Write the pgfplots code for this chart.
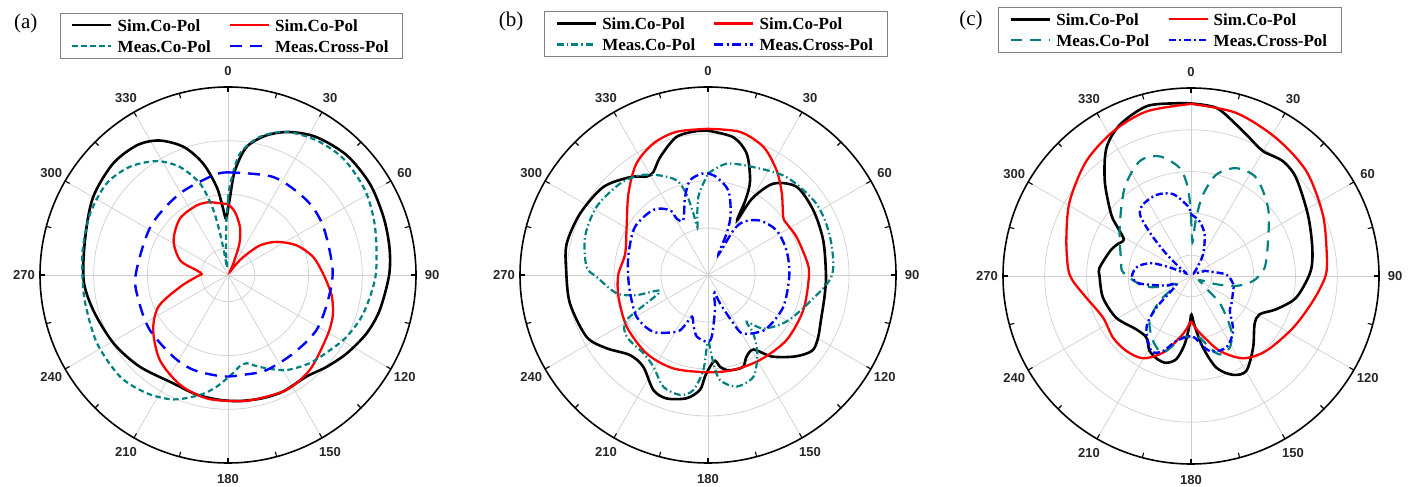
\documentclass[border=0pt]{standalone}
\usepackage{fontspec}
\setmainfont{Liberation Serif}
\newfontfamily\ticksans{Liberation Sans}
\usepackage{pgfplots}
\usepackage{pgfplotstable}
\pgfplotsset{compat=1.18}

\definecolor{simred}{RGB}{255,0,0}
\definecolor{measteal}{RGB}{0,128,128}
\definecolor{measblue}{RGB}{0,0,255}
\definecolor{gridgray}{RGB}{208,208,208}
\definecolor{legframe}{RGB}{128,128,128}

% ---------- (a): angle a in degrees (clockwise from top), level d in dB, range -35..0
\pgfplotstableread{
a d
0 -22.8
1.5 -20.5
3.8 -15.5
8.3 -10.9
15.5 -8.0
23.4 -6.0
32.7 -4.5
44.8 -3.6
57.3 -3.6
69.5 -4.1
80.2 -4.5
90 -5.0
103 -6.0
112.8 -7.0
123.4 -8.5
132.9 -9.9
142.3 -11.1
155 -11.0
165 -11.2
175 -11.45
184 -11.7
195 -12.0
207 -12.4
224 -11.3
239 -10.2
255 -9.1
268 -8.1
285 -7.5
300 -6.0
314 -5.2
325 -5.5
333 -6.9
341 -9.8
347.5 -13.8
352.7 -18.5
355.5 -22.3
357.8 -24.5
360 -22.8
}\blackA
\pgfplotstableread{
a d
0 -21.8
6.3 -23.2
14 -25.8
20 -28.8
25 -32.7
31 -34.3
36 -33.0
40.4 -30.6
47.2 -26.9
55.9 -24.0
66.6 -21.1
78 -18.8
89.2 -17.3
98.4 -15.8
103.5 -15.0
112 -14.0
122 -13.3
139 -11.7
153 -11.0
168.5 -11.3
177.6 -11.5
190 -11.7
203.6 -12.7
218.7 -14.7
233.6 -17.7
245.6 -20.8
256 -25.8
267 -29.2
272.2 -30.1
278.5 -29.1
287 -25.7
302.4 -23.0
319.6 -21.2
335.8 -20.8
346 -21.0
351 -21.4
360 -21.8
}\redA
\pgfplotstableread{
a d
0 -21.0
1.5 -17.9
5.6 -12.3
13 -8.6
22.3 -6.2
33.4 -5.0
44.8 -4.5
58.3 -5.0
71.9 -6.2
90 -7.5
105.8 -8.8
117.5 -10.1
126.3 -11.4
137 -12.6
148.3 -14.2
157.5 -16.2
164 -17.5
168 -18.2
172 -18.0
176 -17.0
179 -16.2
185.8 -14.1
193 -12.1
203.7 -9.7
214.5 -8.3
226.7 -7.4
242.5 -7.5
258.8 -7.9
270 -7.9
280.9 -7.5
294 -6.9
307 -6.7
317.8 -7.8
328 -10.0
336 -13.0
343 -17.2
347 -22.1
349 -26.6
350.5 -30.8
352.5 -33.6
355 -30.8
357 -28.0
358.5 -24.5
360 -21.0
}\tealA
\pgfplotstableread{
a d
0 -15.9
25 -14.9
46.5 -14.8
63 -15.1
87 -15.5
104 -15.8
122 -15.6
140 -16.0
158 -15.9
171 -16.2
183 -16.1
200 -16.2
214 -16.7
235 -17.2
254 -17.7
270 -17.8
302 -18.0
329 -17.4
352 -16.2
360 -15.9
}\blueA

% ---------- (b): range -40..0
\pgfplotstableread{
a d
0 -9.3
10.4 -10.2
17.7 -12.9
24 -18.0
26.5 -22.0
28 -26.8
30 -21.2
35.6 -16.1
45.2 -13.4
58.5 -13.7
73.3 -14.4
90 -14.9
100 -14.8
112 -14.1
120 -13.0
126 -12.6
133 -14.6
142 -18.0
148.5 -21.4
154.7 -20.8
159 -19.1
165 -19.1
169 -19.4
172.5 -20.3
175.3 -21.7
178.7 -20.5
181.7 -18.4
184 -15.5
189.8 -13.4
198.5 -12.3
205.4 -12.9
215.2 -16.1
224.3 -16.2
234.1 -13.4
243 -11.0
258.4 -10.0
272 -9.8
282.5 -9.2
295.6 -9.8
310 -10.9
321.5 -13.4
328 -15.3
332 -15.2
338 -12.9
347 -9.9
355 -9.3
360 -9.3
}\blackB
\pgfplotstableread{
a d
0 -8.9
12.6 -8.8
23.4 -10.3
33.3 -13.4
42.2 -16.6
52.4 -19.8
56.9 -20.0
66.8 -19.5
81.5 -18.8
90 -18.5
110 -18.4
129.6 -18.3
148.5 -18.8
165 -19.1
180 -19.3
200.4 -18.8
218 -18.8
237.6 -19.5
256.4 -20.4
270 -20.9
284.4 -21.8
300.5 -19.9
315.6 -15.8
327 -11.9
337.4 -9.7
347.6 -8.8
360 -8.9
}\redB
\pgfplotstableread{
a d
0 -18.4
9.5 -16.0
22.8 -15.1
38.8 -13.3
56.7 -12.4
72.7 -12.8
90 -13.6
104.7 -17.6
120.7 -20.6
134 -23.6
140.4 -27.1
142.2 -24.3
147.8 -20.3
155.9 -16.3
165.6 -15.5
173.5 -17.5
176.5 -21.2
180 -25.8
182.8 -19.8
187.3 -15.3
193 -13.8
201.8 -14.4
210.8 -17.3
219.5 -18.4
232.8 -18.3
241 -20.2
251 -29.2
254.3 -24.2
258.6 -20.2
269 -16.3
273.8 -14.1
287.2 -12.6
301.4 -12.2
316 -13.0
325.7 -14.3
334.3 -16.5
341.7 -18.8
345 -22.0
346.5 -26.0
347.5 -29.6
350 -26.8
353 -23.2
356 -21.2
360 -18.4
}\tealB
\pgfplotstableread{
a d
0 -18.4
5 -19.1
13.5 -21.5
20.3 -26.1
24 -30.0
27 -35.2
29.6 -29.1
33.7 -26.4
43.6 -24.0
57 -22.6
72.6 -22.5
90 -22.7
112.8 -22.6
132.3 -23.1
142 -24.3
150 -25.7
152.3 -28.4
157 -33.4
159 -36.0
164 -35.2
168.7 -32.4
176.6 -26.8
181 -25.8
190.4 -26.7
196 -28.8
201 -30.5
205 -28.0
209 -26.2
224 -23.2
239.7 -22.4
256.8 -23.0
270 -23.0
285 -22.5
303.3 -21.4
320 -21.9
329.6 -24.0
331 -26.3
335.7 -27.2
343.6 -22.7
349.2 -19.5
356.4 -18.4
360 -18.4
}\blueB

% ---------- (c): range -45..0
\pgfplotstableread{
a d
0 -3.7
8.6 -4.3
16.7 -7.2
23 -9.1
30 -10.5
38.7 -9.8
47 -10.6
62.3 -13.4
77 -15.2
88 -16.4
101.6 -19.3
111.3 -23.1
119.2 -26.2
127.2 -25.9
139.1 -22.3
149.8 -18.7
157 -19.3
164.5 -22.2
170.5 -27.6
175.8 -33.0
178.5 -35.4
180 -35.6
181.6 -33.4
185.3 -28.6
190 -24.8
195.9 -23.4
201.6 -23.5
208.9 -24.5
216 -26.8
225.7 -26.7
240.8 -24.5
256.2 -23.3
270 -23.1
275 -23.0
286.9 -24.7
292.8 -25.7
298.4 -26.7
303.3 -24.1
307.6 -20.9
317.6 -14.4
326.5 -8.3
334.8 -5.0
345.3 -3.0
355 -3.5
360 -3.7
}\blackC
\pgfplotstableread{
a d
0 -3.8
15.5 -4.5
31.7 -6.2
47.8 -7.7
65.1 -10.2
81 -12.1
90 -12.8
101.6 -15.2
116.9 -17.6
134.9 -19.6
147.7 -21.7
159 -25.8
168.7 -30.3
175 -32.5
180 -34.0
185 -32.2
190.4 -30.0
200 -25.5
210.2 -22.2
220.8 -21.3
231.7 -21.2
244.7 -21.7
258.3 -19.4
267.6 -16.7
273.7 -15.5
287 -13.8
301.6 -10.9
317.6 -7.8
331.7 -5.7
344.8 -4.2
360 -3.8
}\redC
\pgfplotstableread{
a d
0 -30.5
2.5 -36.9
4 -33.8
5.5 -30.2
8.4 -25.3
14 -20.0
22.8 -17.0
33.7 -16.8
48.6 -20.4
65.8 -24.8
83.8 -27.3
94.6 -30.1
102.4 -33.9
108 -38.6
116 -42.8
125 -41.4
130 -39.6
134 -35.1
143.7 -28.7
151.6 -25.5
159.9 -25.0
165.4 -27.3
172 -30.1
178 -30.2
187.4 -30.2
200 -25.5
210.3 -27.0
222.6 -30.4
231.4 -35.4
240 -41.0
248.7 -38.0
258 -33.4
272.8 -28.8
282 -27.9
304 -24.4
323 -18.6
335.9 -14.9
345.3 -15.4
354 -19.0
358 -23.9
360 -30.5
}\tealC
\pgfplotstableread{
a d
0 -30.2
9 -31.8
18.3 -34.6
29.4 -39.2
40 -43.2
55 -44.1
70 -41.4
76 -40.5
88 -36.5
101 -34.7
109.7 -34.3
125 -33.2
132 -32.5
142.6 -28.4
153.8 -25.9
166 -26.5
176.6 -30.2
181 -30.6
192.7 -29.1
200.5 -25.8
207.9 -24.7
220.8 -28.7
227.6 -33.8
240 -41.0
250 -38.3
262 -32.4
270 -30.9
280 -32.0
288 -35.1
292 -39.6
298 -43.7
307 -41.4
312 -36.9
316 -31.5
320 -26.1
326 -24.4
336.9 -23.9
347.5 -24.9
357.5 -28.3
360 -30.2
}\blueC

% polar pattern: angle clockwise from the top, radius (d - dmin)/(-dmin)
\newcommand{\polarcurve}[3]{%
  \addplot[#1] table[x expr={(\thisrow{d}+#2)/#2*sin(\thisrow{a})},
                     y expr={(\thisrow{d}+#2)/#2*cos(\thisrow{a})}] {#3};}

% grid rings, spokes, outer ring with ticks and angle labels
\newcommand{\polarframe}[3]{%
  \begin{scope}[shift={(#1pt,#2pt)}]
    \foreach \f in {#3} \draw[gridgray, line width=0.7pt] (0,0) circle[radius=\f*188pt];
    \foreach \t in {0,30,...,330} \draw[gridgray, line width=0.7pt] (0,0) -- ({90-\t}:188pt);
    \foreach \t in {0,15,...,345} \draw[black, line width=1.1pt] ({90-\t}:188pt) -- ({90-\t}:183pt);
    \draw[black, line width=1.6pt] (0,0) circle[radius=188pt];
    \foreach \t in {0,30,...,330}
      \node[text=black!85, font=\ticksans\bfseries\fontsize{13}{13}\selectfont] at ({90-\t}:204pt) {\t};
  \end{scope}}

\pgfplotsset{
  polarpanel/.style={
    scale only axis, width=376pt, height=376pt,
    xmin=-1, xmax=1, ymin=-1, ymax=1,
    hide axis, clip=false, anchor=center,
    legend columns=2, legend cell align=left,
    legend image code/.code={\draw[##1] (0pt,0pt) -- (39pt,0pt);},
    legend style={draw=legframe, line width=0.8pt, fill=white, anchor=center,
      font=\bfseries\fontsize{17}{17}\selectfont,
      inner xsep=11pt, inner ysep=1.5pt,
      nodes={inner xsep=3pt, inner ysep=3pt, text height=14pt, text depth=1pt},
      /tikz/every odd column/.append style={column sep=2pt},
      /tikz/every even column/.append style={column sep=15pt}},
  },
  blackcurve/.style={black, line width=2.6pt, smooth},
  redcurve/.style={simred, line width=2.3pt, smooth},
}

\begin{document}
\begin{tikzpicture}
\path (0,0) rectangle (1416pt,487pt);

% ---------------- (a)
\polarframe{228}{212}{0.1429,0.4286,0.7143}
\begin{axis}[polarpanel, at={(228pt,212pt)}, legend style={at={(0.509,1.137)}}]
  \polarcurve{blackcurve}{35}{\blackA}
  \addlegendentry{Sim.Co-Pol}
  \polarcurve{redcurve}{35}{\redA}
  \addlegendentry{Sim.Co-Pol}
  \polarcurve{measteal, line width=2.2pt, smooth, dash pattern=on 5.5pt off 3.5pt}{35}{\tealA}
  \addlegendentry{Meas.Co-Pol}
  \polarcurve{measblue, line width=2.4pt, smooth, dash pattern=on 12pt off 8pt}{35}{\blueA}
  \addlegendentry{Meas.Cross-Pol}
\end{axis}
\node[font=\fontsize{21}{21}\selectfont] at (25.8pt,463.7pt) {(a)};

% ---------------- (b)
\polarframe{708}{212}{0.25,0.5,0.75}
\begin{axis}[polarpanel, at={(708pt,212pt)}, legend style={at={(0.521,1.141)}}]
  \polarcurve{blackcurve}{40}{\blackB}
  \addlegendentry{Sim.Co-Pol}
  \polarcurve{redcurve}{40}{\redB}
  \addlegendentry{Sim.Co-Pol}
  \polarcurve{measteal, line width=2.2pt, smooth, dash pattern=on 7pt off 3pt on 1.5pt off 3pt}{40}{\tealB}
  \addlegendentry{Meas.Co-Pol}
  \polarcurve{measblue, line width=2.4pt, smooth, dash pattern=on 9pt off 3.5pt on 2pt off 3.5pt}{40}{\blueB}
  \addlegendentry{Meas.Cross-Pol}
\end{axis}
\node[font=\fontsize{21}{21}\selectfont] at (511pt,465.3pt) {(b)};

% ---------------- (c)
\polarframe{1191}{211}{0.1111,0.3333,0.5556,0.7778}
\begin{axis}[polarpanel, at={(1191pt,211pt)}, legend style={at={(0.444,1.155)}}]
  \polarcurve{blackcurve}{45}{\blackC}
  \addlegendentry{Sim.Co-Pol}
  \polarcurve{redcurve}{45}{\redC}
  \addlegendentry{Sim.Co-Pol}
  \polarcurve{measteal, line width=2.2pt, smooth, dash pattern=on 11pt off 8pt}{45}{\tealC}
  \addlegendentry{Meas.Co-Pol}
  \polarcurve{measblue, line width=2.4pt, smooth, dash pattern=on 7pt off 3pt on 2pt off 3pt}{45}{\blueC}
  \addlegendentry{Meas.Cross-Pol}
\end{axis}
\node[font=\fontsize{21}{21}\selectfont] at (971pt,467pt) {(c)};

\pgfresetboundingbox
\path[use as bounding box] (0,0) rectangle (1416pt,487pt);
\end{tikzpicture}
\end{document}
